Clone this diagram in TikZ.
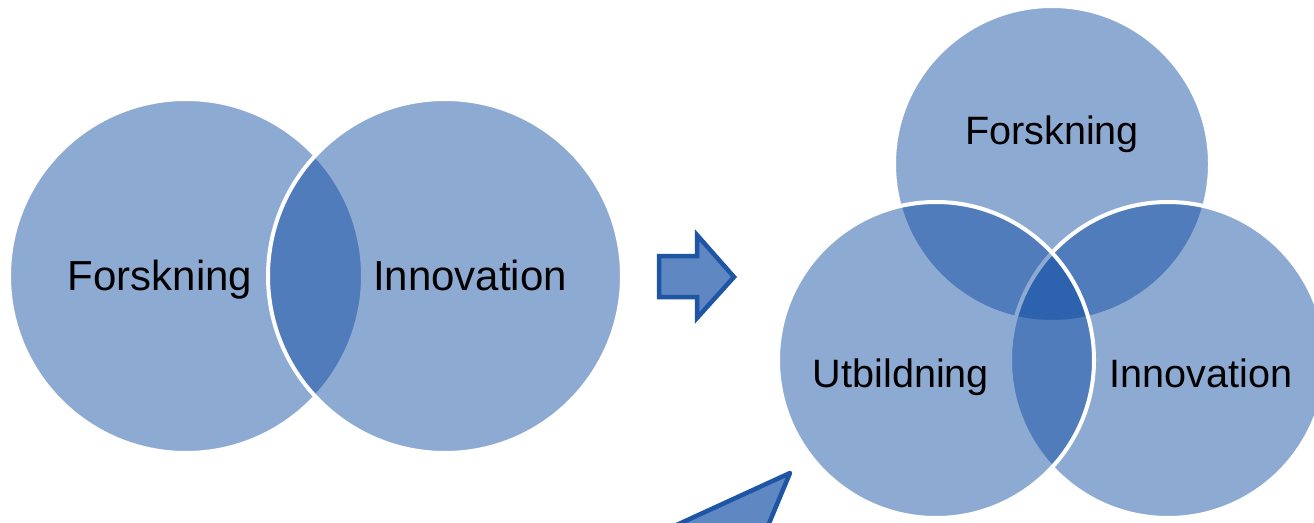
\documentclass[tikz,border=0pt]{standalone}
\usepackage{fontspec}
\setmainfont{Liberation Sans}
\definecolor{vbase}{RGB}{5,69,158}
\definecolor{arrowfill}{RGB}{95,135,194}
\definecolor{arrowline}{RGB}{31,85,165}
\tikzset{
 venn/.style={circle, inner sep=0pt, outer sep=0pt, fill=vbase, fill opacity=0.456, draw=white, line width=4pt},
 bigtext/.style={anchor=base, inner sep=0pt, font=\fontsize{42}{48}\selectfont},
 smalltext/.style={anchor=base, inner sep=0pt, font=\fontsize{39.6}{46}\selectfont},
 blockarrow/.style={fill=arrowfill, draw=arrowline, line width=4.5pt, line join=miter}
}
\begin{document}
\begin{tikzpicture}[x=1pt,y=-1pt]
\useasboundingbox (0,0) rectangle (1314,522);
\clip (0,0) rectangle (1314,522);
% left Venn
\node[venn, minimum size=354pt] (lf) at (186,276) {};
\node[venn, minimum size=354pt] (li) at (445,276) {};
\node[bigtext] (lft) at (160,290) {Forskning};
\node[bigtext] (lit) at (470,290) {Innovation};
% arrow
\path[blockarrow] (659,256) -- (697,256) -- (697,235) -- (734,277) -- (697,318) -- (697,297) -- (659,297) -- cycle;
% right Venn
\node[venn, minimum size=316pt] (rf) at (1052,164) {};
\node[venn, minimum size=316pt] (ri) at (1168,360) {};
\node[venn, minimum size=316pt] (ru) at (936,360) {};
\node[smalltext] (rft) at (1052,144) {Forskning};
\node[smalltext] (rut) at (901,387) {Utbildning};
\node[smalltext] (rit) at (1201,387) {Innovation};
% partial arrow at bottom
\path[blockarrow, line join=round] (790,473) -- (760,545) -- (633,545) -- cycle;
\end{tikzpicture}
\end{document}
